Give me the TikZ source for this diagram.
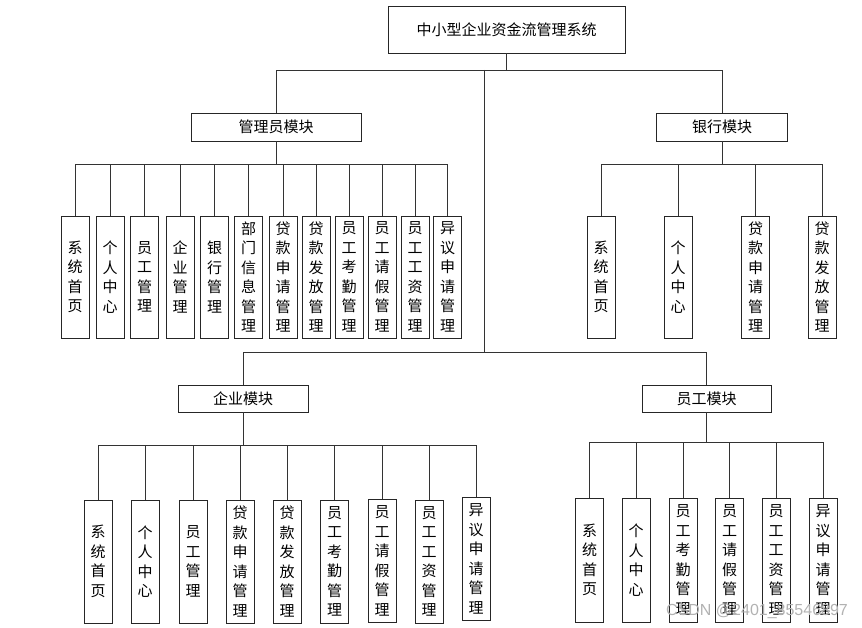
\documentclass[tikz,border=0pt]{standalone}
\usepackage{fontspec}
\newfontfamily\cjk{Noto Sans CJK SC}
\newfontfamily\wmfont{Liberation Sans}
\tikzset{
  hbox/.style={draw=black!85, line width=0.9pt, fill=white, inner sep=0pt,
    font=\cjk\fontsize{15}{18}\selectfont},
  vbox/.style={draw=black!85, line width=0.9pt, fill=white, inner sep=0pt,
    align=center, minimum width=28pt, font=\cjk\fontsize{15}{19.5}\selectfont},
  conn/.style={draw=black!80, line width=0.8pt},
}
\begin{document}
\begin{tikzpicture}[x=1pt,y=-1pt]
\useasboundingbox (0,0) rectangle (862,628);
% root and modules
\node[hbox, minimum width=237pt, minimum height=47pt] (root) at (506.5,29.5) {中小型企业资金流管理系统};
\node[hbox, minimum width=170pt, minimum height=28pt] (adm) at (276,127) {管理员模块};
\node[hbox, minimum width=131pt, minimum height=28pt] (bank) at (722,127) {银行模块};
\node[hbox, minimum width=130pt, minimum height=27pt] (ent) at (243,398.5) {企业模块};
\node[hbox, minimum width=129pt, minimum height=27pt] (emp) at (706.5,398.5) {员工模块};
% bus coordinates
\coordinate (topbus) at (506.5,70);
\coordinate (trunk) at (484,70);
\coordinate (lowbus) at (484,352);
\coordinate (busA) at (276,164);
\coordinate (busB) at (722,164);
\coordinate (busE) at (243,445);
\coordinate (busW) at (706.5,442);
% admin children
\begin{scope}[every node/.style={vbox, minimum height=122pt}]
\node (a1) at (75,277) {系\\统\\首\\页};
\node (a2) at (110,277) {个\\人\\中\\心};
\node (a3) at (144.5,277) {员\\工\\管\\理};
\node (a4) at (180,277) {企\\业\\管\\理};
\node (a5) at (214.5,277) {银\\行\\管\\理};
\node (a6) at (248.5,277) {部\\门\\信\\息\\管\\理};
\node (a7) at (283,277) {贷\\款\\申\\请\\管\\理};
\node (a8) at (316,277) {贷\\款\\发\\放\\管\\理};
\node (a9) at (349,277) {员\\工\\考\\勤\\管\\理};
\node (a10) at (382,277) {员\\工\\请\\假\\管\\理};
\node (a11) at (415,277) {员\\工\\工\\资\\管\\理};
\node (a12) at (447.5,277) {异\\议\\申\\请\\管\\理};
% bank children
\node (b1) at (601,277) {系\\统\\首\\页};
\node (b2) at (678,277) {个\\人\\中\\心};
\node (b3) at (755.5,277) {贷\\款\\申\\请\\管\\理};
\node (b4) at (822,277) {贷\\款\\发\\放\\管\\理};
\end{scope}
% enterprise children
\begin{scope}[every node/.style={vbox, minimum height=123pt}]
\node (e1) at (98,561.5) {系\\统\\首\\页};
\node (e2) at (145,561.5) {个\\人\\中\\心};
\node (e3) at (193,561.5) {员\\工\\管\\理};
\node (e4) at (240,561.5) {贷\\款\\申\\请\\管\\理};
\node (e5) at (287,561.5) {贷\\款\\发\\放\\管\\理};
\node (e6) at (334.5,561.5) {员\\工\\考\\勤\\管\\理};
\node (e7) at (382,561) {员\\工\\请\\假\\管\\理};
\node (e8) at (429,561.5) {员\\工\\工\\资\\管\\理};
\node (e9) at (476,559) {异\\议\\申\\请\\管\\理};
\end{scope}
% employee children
\begin{scope}[every node/.style={vbox, minimum height=124pt}]
\node (w1) at (589.5,560) {系\\统\\首\\页};
\node (w2) at (636,560) {个\\人\\中\\心};
\node (w3) at (683,560) {员\\工\\考\\勤\\管\\理};
\node (w4) at (729.5,560) {员\\工\\请\\假\\管\\理};
\node (w5) at (776,560) {员\\工\\工\\资\\管\\理};
\node (w6) at (823,560) {异\\议\\申\\请\\管\\理};
\end{scope}
% connectors
\draw[conn] (root.south) -- (topbus);
\draw[conn] (adm.north) |- (topbus);
\draw[conn] (bank.north) |- (topbus);
\draw[conn] (trunk) -- (lowbus);
\draw[conn] (ent.north) |- (lowbus);
\draw[conn] (emp.north) |- (lowbus);
\foreach \n in {a1,a2,a3,a4,a5,a6,a7,a8,a9,a10,a11,a12}
  \draw[conn] (\n.north) |- (busA) -- (adm.south);
\foreach \n in {b1,b2,b3,b4}
  \draw[conn] (\n.north) |- (busB) -- (bank.south);
\foreach \n in {e1,e2,e3,e4,e5,e6,e7,e8,e9}
  \draw[conn] (\n.north) |- (busE) -- (ent.south);
\foreach \n in {w1,w2,w3,w4,w5,w6}
  \draw[conn] (\n.north) |- (busW) -- (emp.south);
% watermark
\node[anchor=west, inner sep=0pt, text=black!30, font=\wmfont\fontsize{16}{16}\selectfont] (wm) at (666,611) {CSDN @2401\_85546897};
\end{tikzpicture}
\end{document}
